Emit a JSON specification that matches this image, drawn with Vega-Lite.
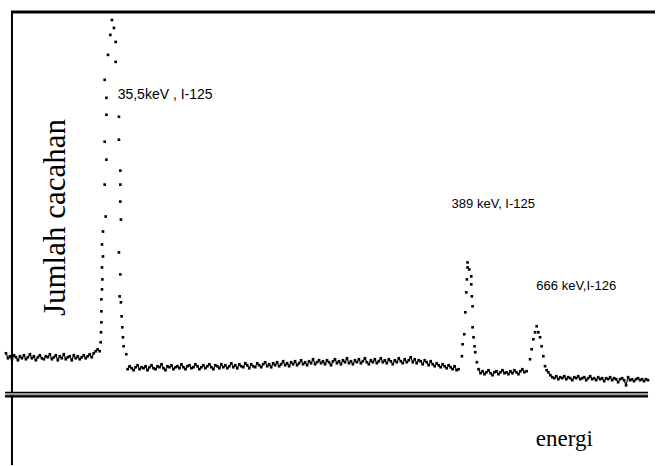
{
  "$schema": "https://vega.github.io/schema/vega-lite/v6.json",
  "width": 657,
  "height": 466,
  "autosize": {"type": "fit", "contains": "padding"},
  "padding": 0,
  "background": "white",
  "config": {"view": {"stroke": null}},
  "datasets": {
    "spectrum": [
      {"ch":6,"cnt":112},{"ch":8,"cnt":107},{"ch":10,"cnt":109},{"ch":12,"cnt":106},{"ch":14,"cnt":110},{"ch":16,"cnt":108},{"ch":18,"cnt":105},{"ch":20,"cnt":109},{"ch":22,"cnt":107},{"ch":24,"cnt":110},
      {"ch":26,"cnt":106},{"ch":28,"cnt":108},{"ch":30,"cnt":111},{"ch":32,"cnt":107},{"ch":34,"cnt":109},{"ch":36,"cnt":105},{"ch":38,"cnt":108},{"ch":40,"cnt":110},{"ch":42,"cnt":107},{"ch":44,"cnt":106},
      {"ch":46,"cnt":109},{"ch":48,"cnt":108},{"ch":50,"cnt":111},{"ch":52,"cnt":106},{"ch":54,"cnt":108},{"ch":56,"cnt":110},{"ch":58,"cnt":105},{"ch":60,"cnt":109},{"ch":62,"cnt":107},{"ch":64,"cnt":111},
      {"ch":66,"cnt":106},{"ch":68,"cnt":108},{"ch":70,"cnt":109},{"ch":72,"cnt":105},{"ch":74,"cnt":110},{"ch":76,"cnt":107},{"ch":78,"cnt":109},{"ch":80,"cnt":106},{"ch":82,"cnt":108},{"ch":84,"cnt":110},
      {"ch":86,"cnt":107},{"ch":88,"cnt":109},{"ch":90,"cnt":111},{"ch":92,"cnt":108},{"ch":94,"cnt":112},{"ch":96,"cnt":114},{"ch":98,"cnt":116},
      {"ch":100,"cnt":114},{"ch":101,"cnt":123},{"ch":101.3,"cnt":133},{"ch":101.7,"cnt":143},{"ch":101.7,"cnt":154},{"ch":101.7,"cnt":166},{"ch":102.3,"cnt":176},{"ch":102.7,"cnt":186},{"ch":102.3,"cnt":198},{"ch":103.3,"cnt":209},
      {"ch":102.3,"cnt":221},{"ch":103.3,"cnt":234},{"ch":106,"cnt":249},{"ch":105,"cnt":281},{"ch":106.7,"cnt":306},{"ch":105,"cnt":324},{"ch":106.7,"cnt":351},{"ch":106.7,"cnt":368},{"ch":105,"cnt":386},{"ch":108.3,"cnt":411},
      {"ch":110.7,"cnt":431},{"ch":112.3,"cnt":446},{"ch":114.3,"cnt":438},{"ch":116,"cnt":424},{"ch":116,"cnt":404},{"ch":119.3,"cnt":349},{"ch":119.3,"cnt":326},{"ch":120.7,"cnt":295},{"ch":120.7,"cnt":281},{"ch":120.7,"cnt":264},
      {"ch":121.3,"cnt":246},{"ch":119.3,"cnt":213},{"ch":120.7,"cnt":191},{"ch":120,"cnt":169},{"ch":121.3,"cnt":163},{"ch":122,"cnt":149},{"ch":122.7,"cnt":138},{"ch":123.3,"cnt":128},{"ch":124,"cnt":119},{"ch":126.7,"cnt":111},
      {"ch":128,"cnt":96},{"ch":130,"cnt":99},{"ch":132,"cnt":97},{"ch":134,"cnt":95},{"ch":136,"cnt":98},{"ch":138,"cnt":100},{"ch":140,"cnt":96},{"ch":142,"cnt":98},{"ch":144,"cnt":97},{"ch":146,"cnt":99},
      {"ch":148,"cnt":95},{"ch":150,"cnt":98},{"ch":152,"cnt":100},{"ch":154,"cnt":97},{"ch":156,"cnt":96},{"ch":158,"cnt":99},{"ch":160,"cnt":98},{"ch":162,"cnt":101},{"ch":164,"cnt":97},{"ch":166,"cnt":95},
      {"ch":168,"cnt":99},{"ch":170,"cnt":98},{"ch":172,"cnt":100},{"ch":174,"cnt":96},{"ch":176,"cnt":98},{"ch":178,"cnt":99},{"ch":180,"cnt":97},{"ch":182,"cnt":101},{"ch":184,"cnt":98},{"ch":186,"cnt":96},
      {"ch":188,"cnt":99},{"ch":190,"cnt":100},{"ch":192,"cnt":97},{"ch":194,"cnt":98},{"ch":196,"cnt":101},{"ch":198,"cnt":99},{"ch":200,"cnt":96},{"ch":202,"cnt":98},{"ch":204,"cnt":100},{"ch":206,"cnt":97},
      {"ch":208,"cnt":99},{"ch":210,"cnt":101},{"ch":212,"cnt":98},{"ch":214,"cnt":96},{"ch":216,"cnt":100},{"ch":218,"cnt":99},{"ch":220,"cnt":97},{"ch":222,"cnt":101},{"ch":224,"cnt":98},{"ch":226,"cnt":100},
      {"ch":228,"cnt":97},{"ch":230,"cnt":99},{"ch":232,"cnt":102},{"ch":234,"cnt":98},{"ch":236,"cnt":100},{"ch":238,"cnt":97},{"ch":240,"cnt":101},{"ch":242,"cnt":99},{"ch":244,"cnt":98},{"ch":246,"cnt":102},
      {"ch":248,"cnt":100},{"ch":250,"cnt":97},{"ch":252,"cnt":101},{"ch":254,"cnt":99},{"ch":256,"cnt":98},{"ch":258,"cnt":102},{"ch":260,"cnt":100},{"ch":262,"cnt":98},{"ch":264,"cnt":101},{"ch":266,"cnt":103},
      {"ch":268,"cnt":99},{"ch":270,"cnt":101},{"ch":272,"cnt":98},{"ch":274,"cnt":102},{"ch":276,"cnt":100},{"ch":278,"cnt":103},{"ch":280,"cnt":99},{"ch":282,"cnt":101},{"ch":284,"cnt":104},{"ch":286,"cnt":100},
      {"ch":288,"cnt":102},{"ch":290,"cnt":99},{"ch":292,"cnt":103},{"ch":294,"cnt":101},{"ch":296,"cnt":104},{"ch":298,"cnt":100},{"ch":300,"cnt":102},{"ch":302,"cnt":105},{"ch":304,"cnt":101},{"ch":306,"cnt":103},
      {"ch":308,"cnt":100},{"ch":310,"cnt":104},{"ch":312,"cnt":102},{"ch":314,"cnt":106},{"ch":316,"cnt":101},{"ch":318,"cnt":103},{"ch":320,"cnt":105},{"ch":322,"cnt":102},{"ch":324,"cnt":104},{"ch":326,"cnt":101},
      {"ch":328,"cnt":105},{"ch":330,"cnt":103},{"ch":332,"cnt":100},{"ch":334,"cnt":104},{"ch":336,"cnt":106},{"ch":338,"cnt":102},{"ch":340,"cnt":104},{"ch":342,"cnt":101},{"ch":344,"cnt":105},{"ch":346,"cnt":103},
      {"ch":348,"cnt":107},{"ch":350,"cnt":102},{"ch":352,"cnt":104},{"ch":354,"cnt":101},{"ch":356,"cnt":105},{"ch":358,"cnt":103},{"ch":360,"cnt":106},{"ch":362,"cnt":102},{"ch":364,"cnt":104},{"ch":366,"cnt":107},
      {"ch":368,"cnt":103},{"ch":370,"cnt":101},{"ch":372,"cnt":105},{"ch":374,"cnt":103},{"ch":376,"cnt":106},{"ch":378,"cnt":102},{"ch":380,"cnt":104},{"ch":382,"cnt":107},{"ch":384,"cnt":103},{"ch":386,"cnt":105},
      {"ch":388,"cnt":102},{"ch":390,"cnt":106},{"ch":392,"cnt":104},{"ch":394,"cnt":101},{"ch":396,"cnt":105},{"ch":398,"cnt":103},{"ch":400,"cnt":107},{"ch":402,"cnt":104},{"ch":404,"cnt":102},{"ch":406,"cnt":106},
      {"ch":408,"cnt":103},{"ch":410,"cnt":105},{"ch":412,"cnt":108},{"ch":414,"cnt":103},{"ch":416,"cnt":106},{"ch":418,"cnt":102},{"ch":420,"cnt":105},{"ch":422,"cnt":104},{"ch":424,"cnt":101},{"ch":426,"cnt":105},
      {"ch":428,"cnt":103},{"ch":430,"cnt":100},{"ch":432,"cnt":104},{"ch":434,"cnt":101},{"ch":436,"cnt":99},{"ch":438,"cnt":102},{"ch":440,"cnt":100},{"ch":442,"cnt":98},{"ch":444,"cnt":101},{"ch":446,"cnt":99},
      {"ch":448,"cnt":97},{"ch":450,"cnt":100},{"ch":452,"cnt":98},{"ch":454,"cnt":96},{"ch":456,"cnt":99},{"ch":458,"cnt":95},
      {"ch":460,"cnt":96},{"ch":463.3,"cnt":109},{"ch":464,"cnt":121},{"ch":465.7,"cnt":131},{"ch":466.7,"cnt":153},{"ch":467.7,"cnt":173},{"ch":468.3,"cnt":186},{"ch":469,"cnt":198},{"ch":469,"cnt":203},{"ch":470.7,"cnt":196},
      {"ch":472.7,"cnt":189},{"ch":472.7,"cnt":181},{"ch":473.3,"cnt":169},{"ch":474,"cnt":159},{"ch":474,"cnt":138},{"ch":475,"cnt":128},{"ch":476,"cnt":119},{"ch":476.7,"cnt":113},{"ch":478.3,"cnt":103},{"ch":480,"cnt":96},
      {"ch":482,"cnt":92},{"ch":484,"cnt":94},{"ch":486,"cnt":91},{"ch":488,"cnt":93},{"ch":490,"cnt":95},{"ch":492,"cnt":92},{"ch":494,"cnt":90},{"ch":496,"cnt":93},{"ch":498,"cnt":94},{"ch":500,"cnt":91},
      {"ch":502,"cnt":93},{"ch":504,"cnt":95},{"ch":506,"cnt":92},{"ch":508,"cnt":93},{"ch":510,"cnt":91},{"ch":512,"cnt":94},{"ch":514,"cnt":92},{"ch":516,"cnt":95},{"ch":518,"cnt":93},{"ch":520,"cnt":91},
      {"ch":522,"cnt":94},{"ch":524,"cnt":96},{"ch":526,"cnt":93},
      {"ch":528.3,"cnt":94},{"ch":531.7,"cnt":106},{"ch":533.3,"cnt":116},{"ch":535,"cnt":126},{"ch":536.7,"cnt":133},{"ch":538.3,"cnt":139},{"ch":540,"cnt":133},{"ch":541.7,"cnt":128},{"ch":543.3,"cnt":119},{"ch":545,"cnt":109},
      {"ch":546.7,"cnt":99},{"ch":548.3,"cnt":95},{"ch":550,"cnt":93},
      {"ch":552,"cnt":90},{"ch":554,"cnt":88},{"ch":556,"cnt":87},{"ch":558,"cnt":89},{"ch":560,"cnt":86},{"ch":562,"cnt":88},{"ch":564,"cnt":87},{"ch":566,"cnt":89},{"ch":568,"cnt":86},{"ch":570,"cnt":88},
      {"ch":572,"cnt":87},{"ch":574,"cnt":85},{"ch":576,"cnt":88},{"ch":578,"cnt":87},{"ch":580,"cnt":89},{"ch":582,"cnt":86},{"ch":584,"cnt":87},{"ch":586,"cnt":88},{"ch":588,"cnt":85},{"ch":590,"cnt":87},
      {"ch":592,"cnt":89},{"ch":594,"cnt":86},{"ch":596,"cnt":87},{"ch":598,"cnt":85},{"ch":600,"cnt":88},{"ch":602,"cnt":86},{"ch":604,"cnt":87},{"ch":606,"cnt":84},{"ch":608,"cnt":87},{"ch":610,"cnt":86},
      {"ch":612,"cnt":88},{"ch":614,"cnt":85},{"ch":616,"cnt":87},{"ch":618,"cnt":86},{"ch":620,"cnt":83},{"ch":622,"cnt":86},{"ch":624,"cnt":87},{"ch":626,"cnt":85},{"ch":628,"cnt":80},{"ch":630,"cnt":88},
      {"ch":632,"cnt":85},{"ch":634,"cnt":86},{"ch":636,"cnt":84},{"ch":638,"cnt":86},{"ch":640,"cnt":87},{"ch":642,"cnt":85},{"ch":644,"cnt":86},{"ch":646,"cnt":84},{"ch":648,"cnt":86},{"ch":650,"cnt":85}
    ]
  },
  "layer": [
    {
      "data": {"name": "spectrum"},
      "mark": {"type": "point", "shape": "square", "filled": true, "size": 7, "color": "black", "opacity": 1},
      "encoding": {
        "x": {"field": "ch", "type": "quantitative", "axis": null, "scale": {"domain": [0, 657], "nice": false, "zero": false}},
        "y": {"field": "cnt", "type": "quantitative", "axis": null, "scale": {"domain": [0, 466], "nice": false, "zero": false}}
      }
    },
    {
      "data": {"name": "spectrum"},
      "transform": [{"filter": "datum.ch <= 99"}],
      "mark": {"type": "line", "color": "black", "strokeWidth": 1.2},
      "encoding": {"x": {"field": "ch", "type": "quantitative"}, "y": {"field": "cnt", "type": "quantitative"}}
    },
    {
      "data": {"name": "spectrum"},
      "transform": [{"filter": "datum.ch >= 127 && datum.ch <= 460"}],
      "mark": {"type": "line", "color": "black", "strokeWidth": 1.2},
      "encoding": {"x": {"field": "ch", "type": "quantitative"}, "y": {"field": "cnt", "type": "quantitative"}}
    },
    {
      "data": {"name": "spectrum"},
      "transform": [{"filter": "datum.ch >= 480 && datum.ch <= 529"}],
      "mark": {"type": "line", "color": "black", "strokeWidth": 1.2},
      "encoding": {"x": {"field": "ch", "type": "quantitative"}, "y": {"field": "cnt", "type": "quantitative"}}
    },
    {
      "data": {"name": "spectrum"},
      "transform": [{"filter": "datum.ch >= 548"}],
      "mark": {"type": "line", "color": "black", "strokeWidth": 1.2},
      "encoding": {"x": {"field": "ch", "type": "quantitative"}, "y": {"field": "cnt", "type": "quantitative"}}
    },
    {
      "data": {"values": [{}]},
      "mark": {"type": "rule", "color": "black", "strokeWidth": 2},
      "encoding": {"x": {"datum": 12}, "y": {"datum": 0}, "y2": {"datum": 455}}
    },
    {
      "data": {"values": [{}]},
      "mark": {"type": "rule", "color": "black", "strokeWidth": 3},
      "encoding": {"y": {"datum": 454}, "x": {"datum": 11}, "x2": {"datum": 657}}
    },
    {
      "data": {"values": [{}]},
      "mark": {"type": "rule", "color": "#999999", "strokeWidth": 3},
      "encoding": {"y": {"datum": 71}, "x": {"datum": 5}, "x2": {"datum": 650}}
    },
    {
      "data": {"values": [{}]},
      "mark": {"type": "rule", "color": "black", "strokeWidth": 1.2},
      "encoding": {"y": {"datum": 72.8}, "x": {"datum": 5}, "x2": {"datum": 650}}
    },
    {
      "data": {"values": [{}]},
      "mark": {"type": "rule", "color": "black", "strokeWidth": 2.2},
      "encoding": {"y": {"datum": 68.8}, "x": {"datum": 5}, "x2": {"datum": 650}}
    },
    {
      "data": {"values": [{}]},
      "mark": {"type": "text", "text": "Jumlah cacahan", "angle": 270, "font": "Liberation Serif", "fontSize": 31, "align": "center", "baseline": "alphabetic", "color": "black"},
      "encoding": {"x": {"datum": 65}, "y": {"datum": 248}}
    },
    {
      "data": {"values": [{}]},
      "mark": {"type": "text", "text": "energi", "font": "Liberation Serif", "fontSize": 23, "align": "center", "baseline": "alphabetic", "color": "black"},
      "encoding": {"x": {"datum": 566}, "y": {"datum": 19}}
    },
    {
      "data": {"values": [{}]},
      "mark": {"type": "text", "text": "35,5keV , I-125", "font": "Liberation Sans", "fontSize": 14, "align": "left", "baseline": "middle", "color": "black"},
      "encoding": {"x": {"datum": 118}, "y": {"datum": 371}}
    },
    {
      "data": {"values": [{}]},
      "mark": {"type": "text", "text": "389 keV, I-125", "font": "Liberation Sans", "fontSize": 13, "align": "left", "baseline": "middle", "color": "black"},
      "encoding": {"x": {"datum": 453}, "y": {"datum": 262}}
    },
    {
      "data": {"values": [{}]},
      "mark": {"type": "text", "text": "666 keV,I-126", "font": "Liberation Sans", "fontSize": 13, "align": "left", "baseline": "middle", "color": "black"},
      "encoding": {"x": {"datum": 538}, "y": {"datum": 179}}
    }
  ]
}
